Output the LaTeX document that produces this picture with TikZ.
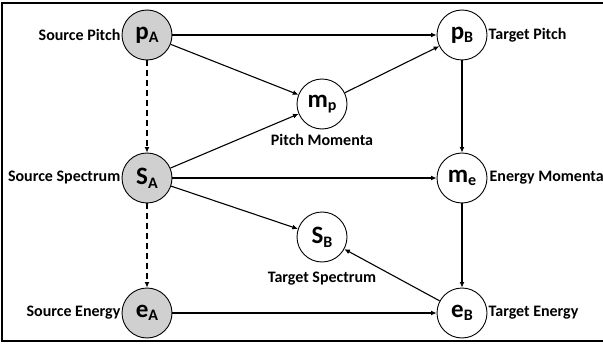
\documentclass[tikz,border=0pt]{standalone}
\usepackage{fontspec}
\setmainfont{Carlito}
\usetikzlibrary{arrows.meta}
\newcommand{\nlab}[2]{{\fontsize{25}{25}\selectfont #1\raisebox{-0.3ex}{\fontsize{16}{16}\selectfont #2}}}
\tikzset{
  var/.style={circle, draw, line width=0.9pt, minimum size=50pt, inner sep=0pt, font=\bfseries},
  src/.style={var, fill=srcgray},
  lab/.style={font=\bfseries\fontsize{16}{19}\selectfont, inner sep=1pt},
  edge/.style={line width=1.1pt, -{Latex[length=5.5pt,width=5pt]}},
  dedge/.style={edge, dash pattern=on 6pt off 4pt},
}
\definecolor{srcgray}{RGB}{208,208,208}
\begin{document}
\begin{tikzpicture}[x=1pt,y=-1pt]
\useasboundingbox (0,0) rectangle (603,345);
\draw[line width=1.2pt] (2,3) rectangle (608,341);
\node[src] (pA) at (147,35) {\nlab{p}{A}};
\node[src] (SA) at (147,178) {\nlab{S}{A}};
\node[src] (eA) at (147,313) {\nlab{e}{A}};
\node[var] (mp) at (322,104) {\nlab{m}{p}};
\node[var] (SB) at (322,237) {\nlab{S}{B}};
\node[var] (pB) at (462,35) {\nlab{p}{B}};
\node[var] (me) at (462,178) {\nlab{m}{e}};
\node[var] (eB) at (462,313) {\nlab{e}{B}};
\node[lab, anchor=east] (lpA) at (pA.west) {Source Pitch};
\node[lab, anchor=east] (lSA) at (SA.west) {Source Spectrum};
\node[lab, anchor=east] (leA) at (eA.west) {Source Energy};
\node[lab, anchor=west] (lpB) at (pB.east) {Target Pitch};
\node[lab, anchor=west] (lme) at ([xshift=1pt]me.east) {Energy Momenta};
\node[lab, anchor=west] (leB) at (eB.east) {Target Energy};
\node[lab, anchor=north] (lmp) at ([yshift=-4pt]mp.south) {Pitch Momenta};
\node[lab, anchor=north] (lSB) at ([yshift=-8pt]SB.south) {Target Spectrum};
\draw[edge] (pA) -- (pB);
\draw[edge] (pA) -- (mp);
\draw[edge] (SA) -- (mp);
\draw[edge] (mp) -- (pB);
\draw[edge] (SA) -- (me);
\draw[edge] (SA) -- (SB);
\draw[edge] (eA) -- (eB);
\draw[edge] (eB) -- (SB);
\draw[edge] (pB) -- (me);
\draw[edge] (me) -- (eB);
\draw[dedge] (pA) -- (SA);
\draw[dedge] (SA) -- (eA);
\end{tikzpicture}
\end{document}
